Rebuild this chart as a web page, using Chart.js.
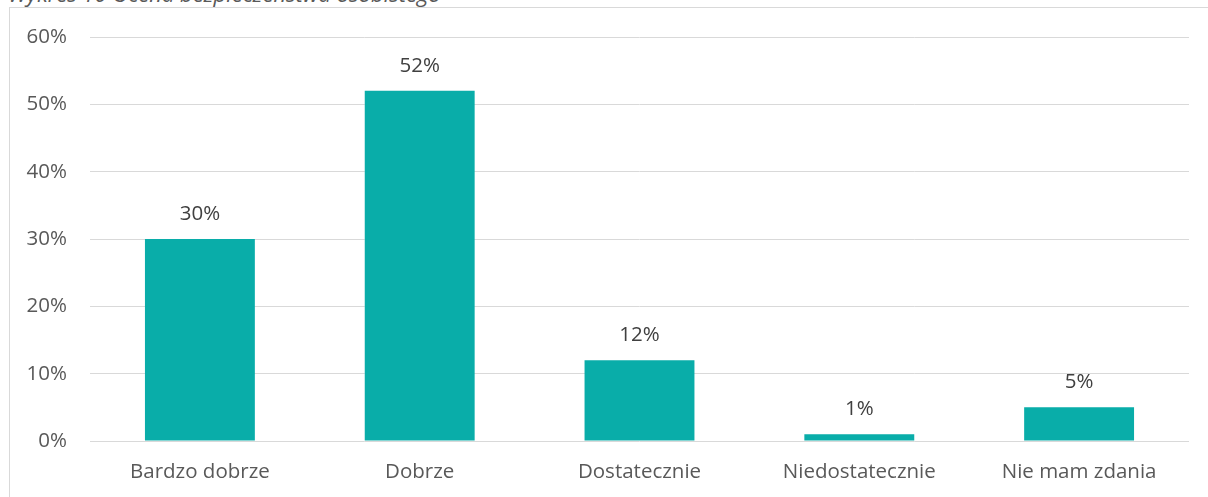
<!DOCTYPE html>
<html>
<head>
<meta charset="utf-8">
<script src="https://cdn.jsdelivr.net/npm/chart.js@4/dist/chart.umd.min.js"></script>
<style>
  html, body { margin: 0; padding: 0; background: #fff; overflow: hidden; }
  #wrap { position: relative; width: 1208px; height: 497px; overflow: hidden; }
  #frame { position: absolute; left: 9px; top: 7px; width: 1220px; height: 520px; border: 1px solid #d9d9d9; box-sizing: border-box; }
  #title { position: absolute; left: 8px; top: -18px; font: italic 22px "Open Sans", sans-serif; line-height: 22px; color: #595959; white-space: nowrap; }
  #chartBox { position: absolute; left: 0; top: 0; width: 1208px; height: 497px; }
</style>
</head>
<body>
<div id="wrap">
  <div id="title">Wykres 10 Ocena bezpieczeństwa osobistego</div>
  <div id="frame"></div>
  <div id="chartBox"><canvas id="bar-chart"></canvas></div>
</div>
<script>
// data
var categories = ['Bardzo dobrze', 'Dobrze', 'Dostatecznie', 'Niedostatecznie', 'Nie mam zdania'];
var values = [30, 52, 12, 1, 5];
var yTicks = [0, 10, 20, 30, 40, 50, 60];

var FONT = '"Open Sans", sans-serif';

// draws value labels above the bars
var valueLabels = {
  id: 'valueLabels',
  afterDatasetsDraw: function (chart) {
    var ctx = chart.ctx;
    var meta = chart.getDatasetMeta(0);
    ctx.save();
    ctx.font = '20.5px ' + FONT;
    ctx.fillStyle = '#404040';
    ctx.textAlign = 'center';
    ctx.textBaseline = 'middle';
    meta.data.forEach(function (bar, i) {
      ctx.fillText(values[i] + '%', bar.x, bar.y - 25);
    });
    ctx.restore();
  }
};

var barChartOptions = {
  type: 'bar',
  data: {
    labels: categories,
    datasets: [{
      data: values,
      backgroundColor: '#09ADA9',
      barPercentage: 1,
      categoryPercentage: 0.5
    }]
  },
  options: {
    responsive: false,
    animation: false,
    maintainAspectRatio: false,
    layout: {
      padding: { top: 37, right: 19, left: 0, bottom: 0 }
    },
    plugins: {
      legend: { display: false },
      tooltip: { enabled: false },
      title: { display: false }
    },
    scales: {
      x: {
        grid: { display: false, drawTicks: false },
        border: { display: false },
        ticks: {
          color: '#595959',
          font: { family: FONT, size: 20.5 },
          padding: 19,
          maxRotation: 0
        },
        afterFit: function (scale) { scale.height = 56; }
      },
      y: {
        min: 0,
        max: 60,
        afterBuildTicks: function (scale) {
          scale.ticks = yTicks.map(function (v) { return { value: v }; });
        },
        grid: { color: '#d9d9d9', lineWidth: 1, drawTicks: false },
        border: { display: false },
        ticks: {
          color: '#595959',
          font: { family: FONT, size: 20.5 },
          padding: 23,
          callback: function (v) { return v + '%'; }
        },
        afterFit: function (scale) { scale.width = 90; }
      }
    }
  },
  plugins: [valueLabels]
};

var canvas = document.getElementById('bar-chart');
canvas.width = 1208;
canvas.height = 497;
var barChart = new Chart(canvas, barChartOptions);
</script>
</body>
</html>
